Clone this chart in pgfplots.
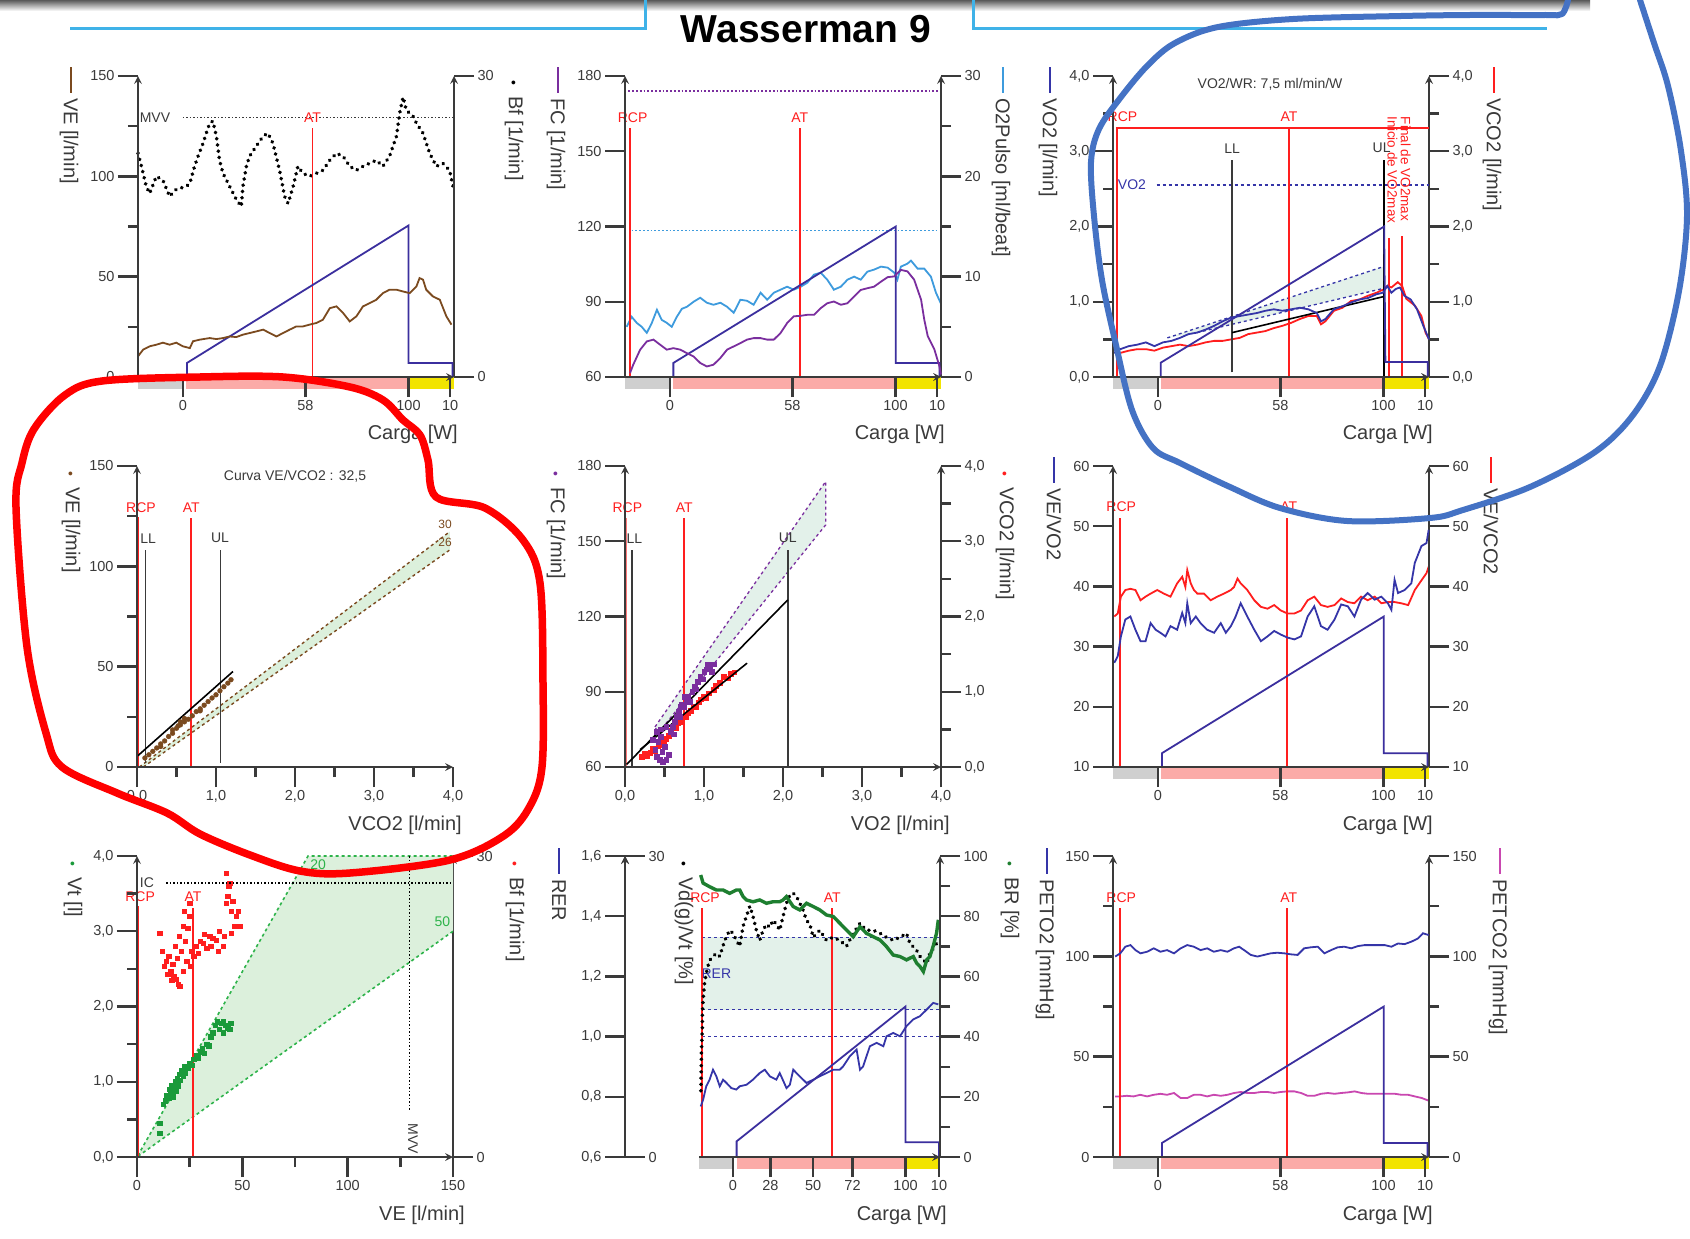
\documentclass[border=0pt]{standalone}
\usepackage{fontspec}
\setmainfont{Liberation Sans}
\usepackage{pgfplots}
\pgfplotsset{compat=1.18}

\definecolor{axg}{HTML}{3A3A3A}
\definecolor{vebrown}{HTML}{7B4A1F}
\definecolor{loadblue}{HTML}{3B2F9E}
\definecolor{fcpurple}{HTML}{7A2E9E}
\definecolor{o2blue}{HTML}{3E9BDD}
\definecolor{vo2blue}{HTML}{3535A8}
\definecolor{atred}{HTML}{FF1E1E}
\definecolor{mag}{HTML}{C947B0}
\definecolor{brgreen}{HTML}{1E7F30}
\definecolor{vtgreen}{HTML}{1A9A3A}
\definecolor{bandfill}{HTML}{E3F1EA}
\definecolor{greenfill}{HTML}{DCF0DC}
\definecolor{dashgreen}{HTML}{2DB34A}
\definecolor{bargray}{HTML}{CFCFCF}
\definecolor{barpink}{HTML}{FBABA8}
\definecolor{baryel}{HTML}{F2E400}
\definecolor{titleblue}{HTML}{3FB2E8}
\definecolor{loopred}{HTML}{FF0000}
\definecolor{loopblue}{HTML}{4472C4}

\newcommand{\tkfont}{\fontsize{14.5}{16}\selectfont}
\newcommand{\lbfont}{\fontsize{20}{22}\selectfont}
\newcommand{\anfont}{\fontsize{14}{16}\selectfont}
\newcommand{\lmark}[1]{\textcolor{#1}{\rule[0.3em]{26pt}{1.8pt}}\hspace{5pt}}
\newcommand{\dmark}[1]{{\fontsize{14}{14}\selectfont\textcolor{#1}{\textbullet}}\hspace{11pt}}

\tikzset{
  dl/.style={line width=1.8pt},
  vl/.style={atred, line width=1.8pt},
  dots/.style={line width=3.9pt, line cap=round, dash pattern=on 0.1pt off 6.2pt},
}
\pgfplotsset{
  wb/.style={scale only axis, width=316pt, height=301pt, clip=false, axis on top,
    axis line style={-, line width=2.4pt, draw=axg},
    tick style={line width=2.4pt, draw=axg},
    major tick length=20pt, minor tick length=10pt,
    tick label style={font=\tkfont, text=axg},
    /pgf/number format/assume math mode=true},
  lax/.style={wb, axis x line=bottom, axis y line=left, tick align=outside},
  rax/.style={wb, axis x line=none, axis y line=right, tick align=outside},
  carga/.style={xmin=0, xmax=100, xtick={14.2,53,85.6,98.8}, xticklabels={0,58,100,10}},
  xdec/.style={x tick label style={/pgf/number format/.cd, use comma, fixed, fixed zerofill, precision=1}},
  ydec/.style={y tick label style={/pgf/number format/.cd, use comma, fixed, fixed zerofill, precision=1}},
}
\newcommand{\cargabars}{%
  \fill[bargray] (rel axis cs:0,0) rectangle (rel axis cs:0.142,-0.04);
  \fill[barpink] (rel axis cs:0.152,0) rectangle (rel axis cs:0.857,-0.04);
  \fill[baryel] (rel axis cs:0.857,0) rectangle (rel axis cs:1,-0.04);}

\begin{document}
\begin{tikzpicture}
\useasboundingbox (0,0) rectangle (1690pt,-1239pt);
\fill[white] (0,0) rectangle (1690pt,-1239pt);
\shade[top color=black!65, bottom color=white] (0,0) rectangle (1590pt,-11pt);

\begin{scope}[x=1pt,y=-1pt]
\draw[titleblue, line width=3pt] (70,29) -- (645,29) -- (645,0);
\draw[titleblue, line width=3pt] (973,0) -- (973,29) -- (1547,29);
\node[anchor=base, font=\fontsize{39}{40}\selectfont\bfseries] at (806,43) {Wasserman 9};
\end{scope}

%%%%%%%%%%%%%%%% PANEL 1
\begin{axis}[rax, at={(138pt,-377pt)}, anchor=south west, xmin=0, xmax=100, ymin=0, ymax=30, ytick={0,30}]
\addplot[black, dots] coordinates {(0,22.3)(1.1,21.0)(2.6,19.0)(3.7,18.3)(5.8,20.0)(7.9,19.6)(10.0,18.0)(12.1,18.7)(15.3,19.0)(16.4,19.3)(17.9,21.0)(19.0,22.0)(20.6,23.3)(21.6,24.3)(22.7,25.3)(23.7,25.5)(24.8,24.0)(25.8,21.6)(26.9,20.3)(29.0,19.0)(31.1,17.7)(32.7,17.0)(33.2,19.0)(34.3,21.0)(35.3,22.0)(37.4,23.0)(39.6,24.0)(41.1,24.3)(42.7,23.3)(44.8,20.6)(46.4,18.0)(47.5,17.3)(49.1,19.0)(50.6,21.0)(52.2,20.3)(54.3,20.0)(56.4,20.3)(58.5,20.6)(60.7,21.6)(62.8,22.3)(64.9,22.0)(67.0,21.0)(69.1,20.6)(71.2,21.0)(73.3,21.3)(75.4,21.6)(77.5,21.0)(79.6,22.0)(81.8,24.0)(82.8,26.3)(83.9,27.9)(84.9,26.6)(87.0,26.0)(88.1,25.3)(90.2,24.3)(92.3,22.3)(94.4,21.0)(96.5,21.3)(98.6,20.6)(99.7,19.0)};
\end{axis}
\begin{axis}[lax, carga, at={(138pt,-377pt)}, anchor=south west, ymin=0, ymax=150, ytick={0,50,100,150}, minor ytick={25,75,125}]
\cargabars
\draw[axg, dotted, line width=1.5pt] (axis cs:14.2,129.4) -- (axis cs:100,129.4);
\node[anchor=west, font=\anfont, text=axg, inner sep=0pt] at (axis cs:0.5,129.4) {MVV};
\draw[vl] (axis cs:55.2,0) -- (axis cs:55.2,124);
\node[atred, font=\anfont] at (axis cs:55.2,129.4) {AT};
\addplot[loadblue, dl] coordinates {(15.5,0)(15.5,7)(85.6,75.5)(85.6,7)(99.5,7)(99.5,0)};
\addplot[vebrown, dl] coordinates {(0,10.3)(1.6,13.6)(3.7,15.3)(5.8,16.1)(7.9,17.1)(10.0,16.1)(12.1,17.1)(14.2,15.3)(16.4,14.4)(17.4,17.8)(19.5,18.6)(22.7,19.4)(24.8,18.9)(26.9,19.4)(29.0,20.2)(31.1,19.9)(33.2,21.1)(35.3,21.9)(37.4,22.7)(39.6,23.6)(41.7,21.9)(43.8,20.2)(45.9,21.9)(48.0,23.6)(50.1,25.2)(52.2,25.2)(54.3,26.1)(56.4,26.9)(58.5,28.5)(60.7,34.3)(62.8,35.2)(64.9,31.9)(67.0,27.7)(69.1,30.2)(71.2,35.2)(73.3,36.8)(75.4,38.5)(77.5,41.8)(79.6,43.5)(81.8,43.5)(83.9,42.6)(86.0,41.8)(88.1,45.1)(89.1,49.3)(90.2,48.5)(91.2,43.5)(93.3,40.2)(95.5,38.5)(97.6,30.2)(99.2,26.1)};
\end{axis}

%%%%%%%%%%%%%%%% PANEL 2
\begin{axis}[rax, at={(625pt,-377pt)}, anchor=south west, xmin=0, xmax=100, ymin=0, ymax=30, ytick={0,10,20,30}, minor ytick={5,15,25}]
\draw[o2blue, dotted, line width=1.8pt] (axis cs:2.1,14.6) -- (axis cs:99,14.6);
\addplot[o2blue, dl] coordinates {(0.5,5.0)(2.1,6.0)(3.7,5.4)(5.3,5.0)(6.9,4.4)(8.5,5.4)(10.1,6.7)(11.6,5.7)(13.2,5.4)(14.8,5.0)(16.4,6.0)(18.0,6.8)(19.6,7.0)(21.7,7.5)(23.8,7.9)(25.9,7.4)(28.0,7.2)(30.2,7.4)(32.3,7.0)(34.4,6.4)(36.5,7.7)(38.6,7.6)(40.7,7.2)(42.9,8.4)(45.0,7.7)(47.1,8.4)(49.2,8.7)(51.3,9.0)(53.4,8.7)(55.6,9.0)(57.7,9.4)(59.8,10.2)(61.9,10.4)(64.0,9.7)(66.1,8.7)(68.3,9.0)(70.4,9.7)(72.5,10.0)(74.6,9.7)(76.7,10.5)(78.8,10.7)(81.0,11.0)(83.1,10.9)(85.2,10.4)(86.2,9.7)(87.3,11.0)(89.4,11.3)(90.5,11.6)(92.6,10.8)(94.7,10.8)(96.8,10.0)(98.4,8.4)(100,7.3)};
\end{axis}
\begin{axis}[lax, carga, at={(625pt,-377pt)}, anchor=south west, ymin=60, ymax=180, ytick={60,90,120,150,180}]
\cargabars
\draw[fcpurple, dotted, line width=1.8pt] (axis cs:1.1,174) -- (axis cs:99.5,174);
\draw[vl, line width=2.4pt] (axis cs:1.6,60) -- (axis cs:1.6,159.2);
\node[atred, font=\anfont] at (axis cs:2.4,163.5) {RCP};
\draw[vl] (axis cs:55.3,60) -- (axis cs:55.3,159.2);
\node[atred, font=\anfont] at (axis cs:55.3,163.5) {AT};
\addplot[loadblue, dl] coordinates {(15.3,60)(15.3,65.6)(85.7,120)(85.7,65.6)(99.5,65.6)(99.5,60)};
\addplot[fcpurple, dl] coordinates {(1.6,61.6)(2.6,64.9)(4.8,70.9)(6.9,74.2)(9.0,74.9)(11.1,72.9)(13.2,70.9)(15.3,71.5)(17.5,70.9)(19.6,69.5)(21.7,68.2)(23.8,65.6)(25.9,64.2)(28.0,64.9)(30.2,67.6)(32.3,70.9)(34.4,72.2)(36.5,73.5)(38.6,74.9)(40.7,75.5)(42.9,75.5)(45.0,74.9)(47.1,74.9)(49.2,77.5)(51.3,81.5)(53.4,84.2)(55.6,84.4)(57.7,84.8)(59.8,84.8)(61.9,87.4)(64.0,89.4)(66.1,90.1)(68.3,88.8)(70.4,89.4)(72.5,92.1)(74.6,94.7)(76.7,95.4)(78.8,96.0)(81.0,98.0)(83.1,99.8)(85.2,100.1)(87.3,102.7)(89.4,102.1)(91.5,98.8)(93.7,90.8)(94.7,82.9)(95.8,76.3)(97.9,71.0)(99.5,64.3)(100,61.0)};
\end{axis}

%%%%%%%%%%%%%%%% PANEL 3
\begin{axis}[rax, ydec, at={(1113pt,-377pt)}, anchor=south west, xmin=0, xmax=100, ymin=0, ymax=4, ytick={0,1,2,3,4}, minor ytick={0.5,1.5,2.5,3.5}]
\addplot[atred, dl] coordinates {(0.3,0.37)(2.3,0.32)(5.0,0.35)(7.7,0.37)(10.4,0.37)(13.1,0.35)(15.8,0.39)(18.5,0.41)(21.2,0.43)(23.9,0.41)(26.6,0.43)(29.3,0.46)(32.0,0.48)(34.7,0.48)(37.4,0.50)(40.1,0.52)(42.8,0.57)(45.5,0.59)(48.2,0.61)(50.9,0.65)(53.6,0.68)(56.4,0.72)(59.1,0.77)(61.8,0.81)(64.5,0.81)(65.8,0.70)(67.2,0.74)(69.9,0.88)(72.6,0.92)(75.3,1.01)(78.0,1.03)(80.7,1.08)(83.4,1.12)(85.4,1.16)(86.8,1.21)(88.1,1.19)(90.1,1.26)(91.5,1.21)(92.8,1.04)(95.5,0.95)(97.6,0.81)(98.9,0.59)(100,0.50)};
\end{axis}
\begin{axis}[lax, carga, ydec, at={(1113pt,-377pt)}, anchor=south west, ymin=0, ymax=4, ytick={0,1,2,3,4}, minor ytick={0.5,1.5,2.5,3.5}]
\cargabars
\node[font=\anfont, text=axg] at (axis cs:49.7,3.89) {VO2/WR: 7,5 ml/min/W};
\fill[bandfill] (axis cs:17.2,0.52) -- (axis cs:85.8,1.47) -- (axis cs:85.8,1.18) -- (axis cs:26.6,0.59) -- cycle;
\addplot[vo2blue, line width=1.3pt, dashed] coordinates {(17.2,0.52)(85.8,1.47)};
\addplot[vo2blue, line width=1.3pt, dashed] coordinates {(26.6,0.59)(85.8,1.18)};
\addplot[vo2blue, line width=1.3pt, dashed] coordinates {(13.8,2.55)(100,2.55)};
\node[vo2blue, font=\anfont, anchor=west, inner sep=0pt] at (axis cs:1.5,2.55) {VO2};
\draw[atred, line width=1.6pt] (axis cs:0.9,3.31) -- (axis cs:100,3.31);
\draw[vl] (axis cs:1.2,0) -- (axis cs:1.2,3.31);
\node[atred, font=\anfont] at (axis cs:3.0,3.46) {RCP};
\draw[vl] (axis cs:55.7,0) -- (axis cs:55.7,3.31);
\node[atred, font=\anfont] at (axis cs:55.7,3.46) {AT};
\draw[axg, line width=1.6pt] (axis cs:37.7,0.06) -- (axis cs:37.7,2.89);
\node[font=\anfont, text=axg] at (axis cs:37.7,3.04) {LL};
\draw[black, line width=1.6pt] (axis cs:85.8,0) -- (axis cs:85.8,2.89);
\node[font=\anfont, text=axg] at (axis cs:85.0,3.04) {UL};
\draw[vl, line width=1.4pt] (axis cs:87.4,0) -- (axis cs:87.4,1.85);
\draw[vl, line width=1.4pt] (axis cs:91.5,0) -- (axis cs:91.5,1.87);
\node[atred, rotate=-90, anchor=west, font=\fontsize{13.5}{14}\selectfont, inner sep=0pt] at (axis cs:88.4,3.46) {Inicio de VO2max};
\node[atred, rotate=-90, anchor=west, font=\fontsize{13.5}{14}\selectfont, inner sep=0pt] at (axis cs:92.6,3.46) {Final de VO2max};
\addplot[black, line width=1.6pt] coordinates {(37.7,0.59)(85.8,1.07)};
\addplot[loadblue, dl] coordinates {(15.1,0)(15.1,0.19)(85.8,2.0)(86.2,0.2)(99.6,0.2)(99.6,0)};
\addplot[vo2blue, dl] coordinates {(0.3,0.32)(2.3,0.37)(5.0,0.41)(7.7,0.43)(10.4,0.46)(13.1,0.41)(15.8,0.46)(18.5,0.48)(21.2,0.52)(23.9,0.57)(26.6,0.59)(29.3,0.63)(32.0,0.68)(34.7,0.74)(37.4,0.79)(40.1,0.81)(42.8,0.83)(45.5,0.85)(48.2,0.88)(50.9,0.90)(53.6,0.88)(56.4,0.90)(59.1,0.92)(61.8,0.90)(64.5,0.85)(65.8,0.74)(67.2,0.77)(69.9,0.90)(72.6,0.94)(75.3,0.99)(78.0,1.03)(80.7,1.05)(83.4,1.10)(85.4,1.12)(86.8,1.21)(88.1,1.12)(89.5,1.17)(90.8,1.19)(92.2,1.08)(94.2,1.03)(96.2,0.90)(98.2,0.68)(100,0.50)};
\end{axis}

%%%%%%%%%%%%%%%% PANEL 4
\begin{axis}[lax, xdec, at={(137pt,-767pt)}, anchor=south west, xmin=0, xmax=4, ymin=0, ymax=150, xtick={0,1,2,3,4}, minor xtick={0.5,1.5,2.5,3.5}, ytick={0,50,100,150}, minor ytick={25,75,125}]
\node[font=\anfont, text=axg] at (axis cs:2.0,145) {Curva VE/VCO2 : 32,5};
\fill[greenfill] (axis cs:0.03,0) -- (axis cs:3.96,117.3) -- (axis cs:3.96,108.2) -- (axis cs:0.08,0) -- cycle;
\addplot[vebrown, dashed, line width=1.4pt] coordinates {(0.03,0)(3.96,117.3)};
\addplot[vebrown, dashed, line width=1.4pt] coordinates {(0.08,0)(3.96,108.2)};
\node[vebrown, font=\fontsize{12}{12}\selectfont] at (axis cs:3.9,121) {30};
\node[vebrown, font=\fontsize{12}{12}\selectfont] at (axis cs:3.9,112) {26};
\draw[vl, line width=2.4pt] (axis cs:0.01,0) -- (axis cs:0.01,124.8);
\node[atred, font=\anfont] at (axis cs:0.05,129.4) {RCP};
\draw[vl] (axis cs:0.688,0) -- (axis cs:0.688,124);
\node[atred, font=\anfont] at (axis cs:0.688,129.4) {AT};
\draw[axg, line width=1.6pt] (axis cs:0.11,2) -- (axis cs:0.11,108);
\node[text=axg, font=\anfont] at (axis cs:0.14,114) {LL};
\draw[axg, line width=1.6pt] (axis cs:1.055,2) -- (axis cs:1.055,108);
\node[text=axg, font=\anfont] at (axis cs:1.05,114) {UL};
\addplot[vebrown, only marks, mark=*, mark size=2.4pt] coordinates {(0.10,4.5)(0.15,6.1)(0.2,7.8)(0.25,9.5)(0.3,11.5)(0.3,10.2)(0.35,13.0)(0.4,15.2)(0.45,16.8)(0.45,18.5)(0.5,19.3)(0.52,20.5)(0.55,21.0)(0.55,22.5)(0.6,22.5)(0.6,24.2)(0.65,23.8)(0.7,25.5)(0.75,27.6)(0.8,29.0)(0.8,28.0)(0.85,30.8)(0.9,32.6)(0.95,34.4)(1.0,36.0)(1.05,38.0)(1.1,40.0)(1.15,41.8)(1.19,43.5)};
\addplot[black, line width=1.6pt] coordinates {(0.01,5.6)(1.215,47.6)};
\end{axis}

%%%%%%%%%%%%%%%% PANEL 5
\begin{axis}[rax, ydec, at={(625pt,-767pt)}, anchor=south west, xmin=0, xmax=4, ymin=0, ymax=4, ytick={0,1,2,3,4}, minor ytick={0.5,1.5,2.5,3.5}]
\addplot[atred, only marks, mark=square*, mark size=2.3pt] coordinates {(0.21,0.14)(0.25,0.18)(0.28,0.15)(0.32,0.19)(0.35,0.24)(0.38,0.22)(0.42,0.28)(0.45,0.30)(0.49,0.32)(0.52,0.38)(0.55,0.42)(0.58,0.48)(0.61,0.54)(0.64,0.52)(0.67,0.58)(0.70,0.60)(0.74,0.67)(0.77,0.66)(0.80,0.72)(0.83,0.75)(0.87,0.81)(0.90,0.80)(0.93,0.86)(0.96,0.90)(0.99,0.94)(1.02,0.92)(1.06,0.98)(1.12,1.03)(1.15,1.08)(1.20,1.12)(1.25,1.20)(1.30,1.18)(1.34,1.24)(1.38,1.26)};
\end{axis}
\begin{axis}[lax, xdec, at={(625pt,-767pt)}, anchor=south west, xmin=0, xmax=4, ymin=60, ymax=180, xtick={0,1,2,3,4}, minor xtick={0.5,1.5,2.5,3.5}, ytick={60,90,120,150,180}]
\fill[bandfill] (axis cs:0.38,76) -- (axis cs:2.54,173.8) -- (axis cs:2.54,156.5) -- (axis cs:0.42,73.5) -- cycle;
\draw[fcpurple, dashed, line width=1.3pt] (axis cs:0.38,76) -- (axis cs:2.54,173.8) -- (axis cs:2.54,156.5) -- (axis cs:0.42,73.5) -- cycle;
\draw[atred!60, line width=3pt] (axis cs:0.01,60) -- (axis cs:0.01,159.2);
\node[atred, font=\anfont] at (axis cs:0.03,163.5) {RCP};
\draw[vl] (axis cs:0.749,60) -- (axis cs:0.749,159.2);
\node[atred, font=\anfont] at (axis cs:0.749,163.5) {AT};
\draw[axg, line width=1.6pt] (axis cs:0.085,60) -- (axis cs:0.085,146.5);
\node[text=axg, font=\anfont] at (axis cs:0.12,151.2) {LL};
\draw[axg, line width=1.6pt] (axis cs:2.06,60) -- (axis cs:2.06,146.5);
\node[text=axg, font=\anfont] at (axis cs:2.06,151.2) {UL};
\addplot[black, line width=1.6pt] coordinates {(0.02,61)(2.06,126.6)};
\addplot[black, line width=1.6pt] coordinates {(0.19,66.9)(1.545,101.4)};
\addplot[fcpurple, only marks, mark=square*, mark size=2.3pt] coordinates {(0.35,71)(0.38,67)(0.40,64)(0.40,74)(0.42,70)(0.44,63)(0.45,72)(0.45,75)(0.47,66)(0.48,62)(0.50,68)(0.52,63)(0.52,76)(0.55,65)(0.58,74)(0.60,76)(0.62,73)(0.63,78)(0.65,80)(0.68,82)(0.70,80)(0.70,84)(0.72,85)(0.75,84)(0.75,88)(0.78,86)(0.80,88)(0.82,86)(0.85,90)(0.88,92)(0.90,91)(0.92,94)(0.95,96)(0.98,95)(1.00,98)(1.03,99)(1.05,101)(1.08,100)(1.10,98)(1.12,101)};
\end{axis}

%%%%%%%%%%%%%%%% PANEL 6
\begin{axis}[rax, at={(1113pt,-767pt)}, anchor=south west, xmin=0, xmax=100, ymin=10, ymax=60, ytick={10,20,30,40,50,60}]
\addplot[atred, dl] coordinates {(0.4,35.0)(1.5,35.5)(2.5,38.3)(3.9,39.4)(5.5,39.6)(7.1,39.4)(8.7,37.7)(10.3,38.3)(11.9,38.8)(14.0,39.4)(16.1,38.8)(18.2,38.3)(20.3,40.5)(21.9,41.6)(22.9,39.9)(23.5,42.7)(24.6,40.5)(25.6,39.4)(26.7,38.8)(28.8,38.8)(30.9,37.7)(33.0,38.3)(35.1,38.8)(37.3,39.4)(38.3,39.9)(39.4,41.3)(40.4,40.5)(42.5,39.4)(44.7,37.7)(46.8,36.6)(48.9,36.3)(51.0,36.9)(53.1,36.0)(55.2,35.5)(57.4,35.5)(59.5,36.0)(61.6,37.7)(63.7,38.3)(65.8,36.9)(67.9,36.6)(70.1,36.9)(72.2,38.0)(74.3,37.4)(76.4,37.2)(78.5,38.3)(80.6,37.7)(82.8,38.3)(84.9,37.2)(87.0,37.4)(89.1,37.4)(91.2,37.2)(93.4,36.9)(95.5,39.4)(97.6,41.0)(99.2,42.2)(99.9,43.3)};
\end{axis}
\begin{axis}[lax, carga, at={(1113pt,-767pt)}, anchor=south west, ymin=10, ymax=60, ytick={10,20,30,40,50,60}]
\cargabars
\draw[vl] (axis cs:2.1,10) -- (axis cs:2.1,51.3);
\node[atred, font=\anfont] at (axis cs:2.6,53.2) {RCP};
\draw[vl] (axis cs:55.1,10) -- (axis cs:55.1,51.3);
\node[atred, font=\anfont] at (axis cs:55.6,53.2) {AT};
\addplot[loadblue, dl] coordinates {(15.5,10)(15.5,12.3)(85.7,35)(85.7,12.3)(99.5,12.3)(99.5,10)};
\addplot[vo2blue, dl] coordinates {(0.4,27.3)(1.5,28.4)(2.5,31.7)(3.9,34.5)(5.5,35.0)(7.1,32.8)(8.7,30.9)(10.3,30.9)(11.9,33.9)(13.5,32.8)(15.0,32.3)(16.6,31.7)(18.2,33.4)(20.3,32.8)(21.9,35.6)(22.9,33.9)(23.5,37.2)(24.6,33.9)(26.2,35.0)(27.7,33.9)(29.8,32.8)(32.0,32.3)(34.1,33.9)(35.7,32.3)(37.3,33.4)(38.8,35.0)(40.4,37.2)(42.5,35.0)(44.7,32.8)(46.8,30.9)(48.9,31.7)(51.0,32.6)(53.1,32.0)(55.2,31.5)(57.4,31.2)(59.5,31.7)(61.6,35.0)(63.7,36.7)(65.8,33.4)(67.9,32.8)(70.1,34.5)(72.2,37.0)(74.3,36.7)(76.4,35.0)(78.5,37.8)(80.6,38.9)(82.8,37.8)(84.9,38.3)(87.0,37.2)(88.1,36.1)(89.1,41.1)(90.2,38.9)(92.3,39.4)(94.4,40.5)(95.5,43.9)(97.6,46.7)(99.2,47.2)(99.9,49.4)};
\end{axis}

%%%%%%%%%%%%%%%% PANEL 7
\begin{axis}[rax, at={(137pt,-1157pt)}, anchor=south west, xmin=0, xmax=150, ymin=0, ymax=30, ytick={0,30}]
\addplot[atred, only marks, mark=square*, mark size=2.2pt] coordinates {(10.8,22.3)(12.0,20.5)(13.0,19.0)(13.9,19.5)(14.5,18.2)(15.0,20.0)(16.0,18.5)(16.5,17.6)(17.0,19.2)(17.5,18.0)(18.0,21.0)(18.7,17.7)(19.0,19.8)(19.5,17.2)(20.3,17.0)(20.0,22.0)(21.0,20.5)(21.8,23.0)(22.0,18.5)(22.5,24.5)(23.0,21.5)(23.5,19.5)(24.0,22.8)(25.0,24.0)(25.0,25.3)(25.5,19.0)(26.0,20.5)(27.0,20.0)(28.2,21.0)(29.0,20.3)(30.0,21.5)(31.3,21.3)(32.0,22.2)(33.0,20.8)(34.5,22.0)(35.0,21.0)(36.0,21.8)(37.7,21.6)(38.5,20.5)(39.0,22.5)(40.8,21.0)(41.5,22.0)(42.4,25.3)(43.0,26.0)(44.0,27.3)(42.4,28.3)(43.5,27.0)(44.8,24.5)(45.5,25.5)(46.0,23.0)(47.2,24.0)(48.7,23.0)(48.0,24.5)(44.8,22.3)};
\end{axis}
\begin{axis}[lax, ydec, at={(137pt,-1157pt)}, anchor=south west, xmin=0, xmax=150, ymin=0, ymax=4, xtick={0,50,100,150}, minor xtick={25,75,125}, ytick={0,1,2,3,4}, minor ytick={0.5,1.5,2.5,3.5}]
\fill[greenfill] (axis cs:0,0) -- (axis cs:81.2,4) -- (axis cs:150,4) -- (axis cs:150,3) -- cycle;
\draw[dashgreen, dashed, line width=1.6pt] (axis cs:150,3) -- (axis cs:0,0) -- (axis cs:81.2,4) -- (axis cs:150,4);
\node[dashgreen, font=\anfont] at (axis cs:86,3.88) {20};
\node[dashgreen, font=\anfont] at (axis cs:145,3.13) {50};
\draw[black, dotted, line width=1.5pt] (axis cs:13.9,3.64) -- (axis cs:150,3.64);
\node[text=axg, font=\anfont] at (axis cs:4.7,3.65) {IC};
\draw[black, dotted, line width=1.5pt] (axis cs:129.4,4) -- (axis cs:129.4,0.63);
\node[text=axg, font=\anfont, rotate=-90, anchor=west, inner sep=0pt] at (axis cs:131,0.45) {MVV};
\draw[vl] (axis cs:0.3,0) -- (axis cs:0.3,3.33);
\node[atred, font=\anfont] at (axis cs:1.5,3.46) {RCP};
\draw[vl] (axis cs:26.6,0) -- (axis cs:26.6,3.31);
\node[atred, font=\anfont] at (axis cs:26.6,3.46) {AT};
\addplot[vtgreen, only marks, mark=square*, mark size=2.2pt] coordinates {(10.8,0.32)(10.8,0.45)(12.5,0.70)(13.5,0.75)(14.0,0.82)(15.0,0.78)(15.5,0.90)(16.0,0.85)(16.5,0.95)(17.0,0.80)(17.5,0.92)(18.0,1.00)(18.5,0.88)(19.0,1.05)(19.5,0.95)(20.0,1.10)(20.5,1.02)(21.0,1.15)(22.0,1.08)(22.5,1.20)(23.0,1.12)(24.0,1.18)(25.0,1.25)(26.0,1.22)(27.0,1.30)(28.0,1.35)(29.0,1.32)(30.0,1.40)(31.0,1.45)(32.0,1.38)(33.0,1.50)(34.0,1.48)(35.0,1.60)(36.0,1.65)(37.0,1.75)(38.0,1.80)(39.0,1.70)(40.0,1.78)(41.0,1.65)(42.0,1.75)(43.0,1.72)(44.0,1.70)(44.5,1.78)(41.0,1.80)};
\end{axis}

%%%%%%%%%%%%%%%% PANEL 8
\begin{axis}[wb, ydec, at={(625pt,-1157pt)}, anchor=south west, width=1pt, axis x line=none, axis y line=left, tick align=outside, xmin=0, xmax=1, ymin=0.6, ymax=1.6, ytick={0.6,0.8,1.0,1.2,1.4,1.6}]
\end{axis}
\begin{axis}[wb, at={(624pt,-1157pt)}, anchor=south west, width=1pt, axis x line=none, axis y line=right, tick align=outside, xmin=0, xmax=1, ymin=0, ymax=30, ytick={0,30}]
\end{axis}
\begin{axis}[wb, width=241pt, at={(699pt,-1157pt)}, anchor=south west, axis x line=none, axis y line=none, xmin=0, xmax=100, ymin=0.6, ymax=1.6]
\fill[bandfill] (axis cs:1.4,1.09) rectangle (axis cs:100,1.33);
\draw[vo2blue, dashed, line width=1.4pt] (axis cs:1.4,1.33) -- (axis cs:100,1.33);
\draw[vo2blue, dashed, line width=1.4pt] (axis cs:1.4,1.09) -- (axis cs:100,1.09);
\draw[vo2blue, dashed, line width=1.4pt] (axis cs:1.4,1.0) -- (axis cs:100,1.0);
\node[vo2blue, font=\anfont] at (axis cs:7.2,1.21) {RER};
\draw[vl] (axis cs:1.4,0.6) -- (axis cs:1.4,1.426);
\node[atred, font=\anfont] at (axis cs:2.5,1.463) {RCP};
\draw[vl] (axis cs:55.3,0.6) -- (axis cs:55.3,1.426);
\node[atred, font=\anfont] at (axis cs:55.3,1.463) {AT};
\addplot[vo2blue, dl] coordinates {(0.7,0.768)(1.7,0.790)(3.0,0.835)(4.4,0.857)(5.8,0.890)(7.2,0.868)(8.6,0.835)(10.0,0.857)(11.4,0.846)(13.4,0.829)(15.5,0.824)(16.9,0.835)(19.7,0.840)(22.4,0.857)(25.2,0.879)(27.3,0.890)(29.4,0.868)(32.1,0.857)(33.5,0.879)(36.3,0.829)(37.7,0.840)(39.1,0.890)(41.8,0.868)(44.6,0.846)(47.4,0.857)(50.1,0.868)(52.9,0.879)(55.7,0.890)(58.4,0.890)(59.8,0.901)(62.6,0.935)(65.4,0.957)(66.8,0.890)(68.1,0.901)(70.9,0.968)(73.7,0.979)(76.5,0.968)(77.8,1.001)(80.6,1.012)(83.4,1.001)(86.1,1.035)(88.9,1.057)(91.7,1.068)(94.5,1.090)(97.2,1.112)(99.3,1.107)};
\end{axis}
\begin{axis}[wb, width=241pt, at={(699pt,-1157pt)}, anchor=south west, axis x line=none, axis y line=none, xmin=0, xmax=100, ymin=0, ymax=30]
\addplot[black, dots] coordinates {(0.8,6.6)(1.0,10.4)(1.4,13.0)(1.4,14.3)(1.7,15.7)(2.3,17.3)(3.0,18.3)(3.7,19.0)(4.4,19.6)(5.8,20.0)(7.2,20.3)(8.6,20.0)(10.7,21.6)(12.7,22.6)(14.1,22.3)(15.5,21.6)(16.9,21.0)(18.3,23.0)(19.7,24.0)(21.1,25.0)(22.4,24.0)(23.8,22.6)(25.2,21.6)(26.6,22.6)(28.0,23.2)(29.4,22.9)(30.7,23.6)(32.1,23.2)(33.5,22.6)(34.9,24.0)(36.3,25.3)(37.7,26.1)(39.1,26.3)(40.4,26.0)(41.8,25.3)(43.2,24.6)(44.6,23.6)(46.0,23.2)(47.4,21.9)(50.1,22.6)(52.9,21.6)(55.7,21.9)(58.4,21.6)(61.2,21.0)(64.0,22.3)(66.8,23.3)(69.5,22.6)(72.3,22.6)(75.1,22.3)(77.8,21.9)(80.6,21.6)(83.4,21.9)(86.1,22.3)(87.5,21.3)(90.3,20.6)(91.7,20.0)(94.5,19.3)(95.8,20.3)(98.6,21.3)};
\end{axis}
\begin{axis}[wb, width=241pt, at={(699pt,-1157pt)}, anchor=south west, axis x line=bottom, axis y line=right, tick align=outside, xmin=0, xmax=100, ymin=0, ymax=100, xtick={14.1,29.6,47.4,63.7,85.7,99.6}, xticklabels={0,28,50,72,100,10}, ytick={0,20,40,60,80,100}, minor ytick={10,30,50,70,90}]
\fill[bargray] (rel axis cs:0,0) rectangle (rel axis cs:0.141,-0.04);
\fill[barpink] (rel axis cs:0.158,0) rectangle (rel axis cs:0.857,-0.04);
\fill[baryel] (rel axis cs:0.857,0) rectangle (rel axis cs:1,-0.04);
\addplot[loadblue, dl] coordinates {(15.6,0)(15.6,5.2)(85.7,50)(85.7,4.9)(99.6,4.9)(99.6,0)};
\addplot[brgreen, line width=3.4pt] coordinates {(0.7,93.7)(1.7,91.0)(4.4,89.8)(7.2,88.7)(10.0,88.7)(12.7,87.6)(15.5,88.7)(16.9,88.7)(18.3,86.5)(19.7,85.4)(22.4,84.8)(25.2,85.4)(28.0,84.3)(30.7,84.8)(33.5,84.8)(34.9,85.4)(36.3,86.5)(39.1,83.2)(41.8,82.1)(44.6,84.3)(47.4,83.2)(50.1,82.1)(52.9,80.4)(55.7,79.9)(58.4,77.7)(61.2,75.4)(64.0,73.2)(66.8,76.5)(69.5,74.3)(72.3,73.2)(75.1,72.1)(77.8,69.9)(80.6,67.1)(83.4,66.6)(86.1,65.5)(88.9,66.6)(90.3,64.4)(91.7,63.3)(93.1,61.6)(94.5,65.5)(95.8,66.6)(97.2,70.1)(98.6,74.5)(99.3,78.8)};
\end{axis}

%%%%%%%%%%%%%%%% PANEL 9
\begin{axis}[rax, at={(1113pt,-1157pt)}, anchor=south west, xmin=0, xmax=100, ymin=0, ymax=150, ytick={0,50,100,150}, minor ytick={25,75,125}]
\addplot[mag, dl] coordinates {(0.7,30.2)(2.3,30.2)(4.4,30.5)(6.5,30.2)(8.6,31.0)(10.8,30.2)(12.9,31.0)(15.0,31.5)(17.1,31.0)(19.3,31.9)(21.4,29.4)(23.5,29.4)(25.6,31.0)(27.7,31.0)(29.8,30.2)(31.9,31.0)(34.1,30.5)(36.2,31.0)(38.3,31.9)(40.4,32.4)(42.5,31.9)(44.7,31.9)(46.8,32.4)(48.9,32.4)(51.0,31.9)(53.1,32.4)(55.2,32.7)(57.4,32.7)(59.5,31.9)(61.6,30.5)(63.7,30.5)(65.8,31.5)(68.0,31.9)(70.1,31.5)(72.2,31.9)(74.3,32.2)(76.5,32.7)(78.6,31.9)(80.7,31.5)(82.8,31.5)(84.9,31.5)(87.0,31.5)(89.2,31.5)(91.3,31.0)(93.4,31.0)(95.5,30.2)(97.7,29.4)(99.7,28.2)};
\end{axis}
\begin{axis}[lax, carga, at={(1113pt,-1157pt)}, anchor=south west, ymin=0, ymax=150, ytick={0,50,100,150}, minor ytick={25,75,125}]
\cargabars
\draw[vl] (axis cs:2.1,0) -- (axis cs:2.1,124);
\node[atred, font=\anfont] at (axis cs:2.6,129.4) {RCP};
\draw[vl] (axis cs:55.1,0) -- (axis cs:55.1,124);
\node[atred, font=\anfont] at (axis cs:55.6,129.4) {AT};
\addplot[loadblue, dl] coordinates {(15.5,0)(15.5,7)(85.7,75)(85.7,7)(99.5,7)(99.5,0)};
\addplot[vo2blue, dl] coordinates {(0.7,99.9)(2.3,101.5)(3.9,104.8)(5.5,105.6)(7.1,103.1)(8.7,101.5)(10.8,102.3)(12.9,104.0)(15.0,102.3)(17.1,103.1)(19.3,101.5)(21.4,104.0)(23.5,105.6)(25.6,104.8)(27.7,103.1)(29.8,104.0)(31.9,102.3)(34.1,103.1)(36.2,102.3)(38.3,104.0)(39.9,104.8)(41.5,103.1)(43.6,100.7)(45.7,99.9)(47.8,100.7)(49.9,101.5)(52.0,101.8)(54.2,101.5)(56.3,101.0)(58.4,100.7)(60.5,104.0)(62.6,104.5)(64.8,104.8)(66.9,101.5)(69.0,103.1)(71.1,104.5)(73.2,104.8)(75.4,104.0)(77.5,105.1)(79.6,105.6)(81.7,105.6)(83.8,105.6)(86.0,105.6)(88.1,104.8)(90.2,106.4)(92.3,106.1)(94.4,107.3)(96.5,108.9)(98.1,111.5)(99.9,110.6)};
\end{axis}

%%%%%%%%%%%%%%%% LABELS
\begin{scope}[x=1pt,y=-1pt]
\tikzset{yl/.style={rotate=-90, anchor=west, inner sep=0pt, font=\lbfont, text=axg},
         xl/.style={anchor=base east, inner sep=0pt, font=\lbfont, text=axg}}
\node[yl] at (69,67) {\lmark{vebrown}VE [l/min]};
\node[yl] at (514,80) {\dmark{black}Bf [1/min]};
\node[yl] at (556,67) {\lmark{fcpurple}FC [1/min]};
\node[yl] at (1001,67) {\lmark{o2blue}O2Pulso [ml/beat]};
\node[yl] at (1048,67) {\lmark{vo2blue}VO2 [l/min]};
\node[yl] at (1492,67) {\lmark{atred}VCO2 [l/min]};
\node[yl] at (71,471) {\dmark{vebrown}VE [l/min]};
\node[yl] at (556,471) {\dmark{fcpurple}FC [1/min]};
\node[yl] at (1005,471) {\dmark{atred}VCO2 [l/min]};
\node[yl] at (1054,457) {\lmark{vo2blue}VE/VO2};
\node[yl] at (1491,457) {\lmark{atred}VE/VCO2};
\node[yl] at (73,861) {\dmark{vtgreen}Vt [l]};
\node[yl] at (515,861) {\dmark{atred}Bf [1/min]};
\node[yl] at (559,848) {\lmark{vo2blue}RER};
\node[yl] at (684,861) {\dmark{black}Vd(g)/Vt [\%]};
\node[yl] at (1010,861) {\dmark{brgreen}BR [\%]};
\node[yl] at (1045,848) {\lmark{vo2blue}PETO2 [mmHg]};
\node[yl] at (1498,848) {\lmark{mag}PETCO2 [mmHg]};
\node[xl] at (458,439) {Carga [W]};
\node[xl] at (945,439) {Carga [W]};
\node[xl] at (1433,439) {Carga [W]};
\node[xl] at (462,830) {VCO2 [l/min]};
\node[xl] at (950,830) {VO2 [l/min]};
\node[xl] at (1433,830) {Carga [W]};
\node[xl] at (465,1220) {VE [l/min]};
\node[xl] at (947,1220) {Carga [W]};
\node[xl] at (1433,1220) {Carga [W]};

% hand-drawn annotations
\draw[loopred, line width=7.5pt, line cap=round, line join=round] plot[smooth cycle, tension=0.55] coordinates {(102,381) (200,377) (283,377) (350,387) (383,400) (403,420) (420,435) (428,460) (436,497) (485,508) (523,540) (540,583) (543,683) (542,767) (530,806) (505,835) (450,860) (350,873) (300,871) (250,855) (200,834) (167,813) (117,793) (62,767) (46,733) (27,647) (16,507) (22,463) (34,429) (65,395)};
\draw[loopblue, line width=6pt, line cap=round, line join=round] plot[smooth, tension=0.55] coordinates {(1568,0) (1562,14) (1545,15) (1470,15) (1401,16) (1293,19) (1218,27) (1175,43) (1148,65) (1121,97) (1099,129) (1091,162) (1094,216) (1102,280) (1116,345) (1132,410) (1153,448) (1180,463) (1230,487) (1280,508) (1347,521) (1430,518) (1463,510) (1530,487) (1595,452) (1633,415) (1660,366) (1679,291) (1687,216) (1681,151) (1668,86) (1654,43) (1640,0)};
\end{scope}
\end{tikzpicture}
\end{document}
